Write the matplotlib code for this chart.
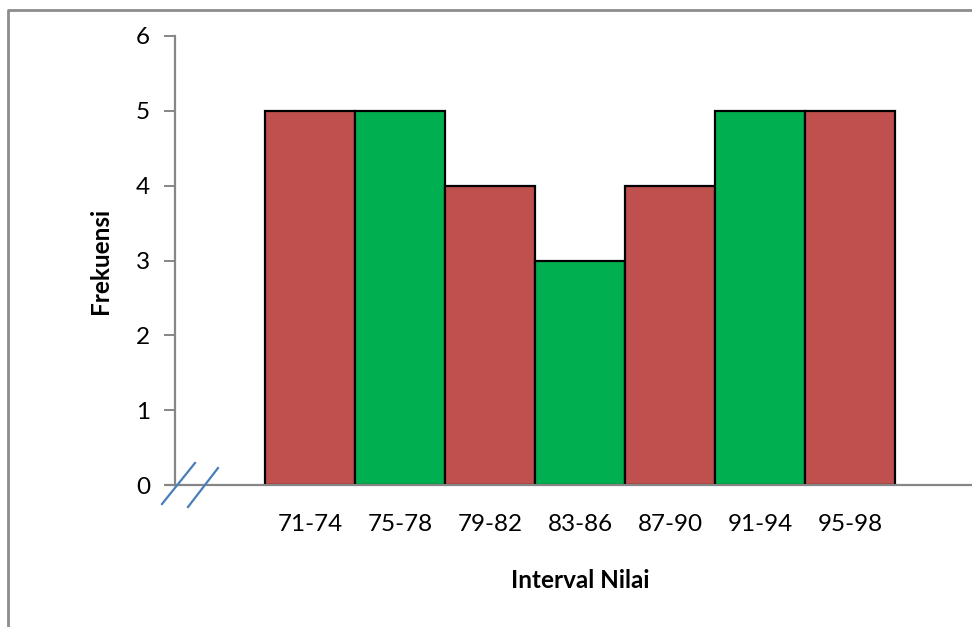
import matplotlib
matplotlib.use("Agg")
import matplotlib.pyplot as plt
from matplotlib.lines import Line2D

categories = ["71-74", "75-78", "79-82", "83-86", "87-90", "91-94", "95-98"]
frequencies = [5, 5, 4, 3, 4, 5, 5]
bar_colors = ["#C0504D", "#00B050", "#C0504D", "#00B050", "#C0504D", "#00B050", "#C0504D"]
y_ticks = [0, 1, 2, 3, 4, 5, 6]

plt.rcParams["font.family"] = ["Lato", "DejaVu Sans"]

W, H = 972, 627
fig = plt.figure(figsize=(W / 100, H / 100), dpi=100)

# axes area in pixel coordinates (left, top, right, bottom)
left, top, right, bottom = 175, 36, 985, 485
ax = fig.add_axes([left / W, 1 - bottom / H, (right - left) / W, (bottom - top) / H])

x = list(range(len(categories)))
ax.bar(x, frequencies, width=1.0, color=bar_colors, edgecolor="black", linewidth=1.6, zorder=2)

ax.set_xlim(-1.5, len(categories) + 0.5)
ax.set_ylim(0, 6)
ax.set_yticks(y_ticks)
ax.set_xticks(x)
ax.set_xticklabels(categories)

for side in ["top", "right"]:
    ax.spines[side].set_visible(False)
for side in ["left", "bottom"]:
    ax.spines[side].set_color("#868686")
    ax.spines[side].set_linewidth(1.6)
    ax.spines[side].set_zorder(3)

fs = 17.5
ax.tick_params(axis="y", direction="out", length=8, width=1.4, color="#868686",
               labelsize=fs, pad=10)
ax.tick_params(axis="x", length=0, labelsize=fs, pad=21)
for lbl in ax.get_xticklabels() + ax.get_yticklabels():
    lbl.set_color("black")

ax.set_ylabel("Frekuensi", fontsize=fs, fontweight="bold", labelpad=17)
ax.set_xlabel("Interval Nilai", fontsize=fs, fontweight="bold", labelpad=24)

# extend the baseline slightly left of the y axis
fig.add_artist(Line2D([166 / W, left / W], [1 - bottom / H, 1 - bottom / H],
                      color="#868686", linewidth=1.6))

# axis break marks
for (x0, y0, x1, y1) in [(162, 504, 195, 463), (188, 507, 218, 468)]:
    fig.add_artist(Line2D([x0 / W, x1 / W], [1 - y0 / H, 1 - y1 / H],
                          color="#4A7EBB", linewidth=1.6))

# outer frame of the chart area
fig.add_artist(Line2D([8 / W, 8 / W, 1.0], [0, 1 - 9.5 / H, 1 - 9.5 / H],
                      color="#8C8C8C", linewidth=2.0))

fig.savefig("out.png", dpi=100)
